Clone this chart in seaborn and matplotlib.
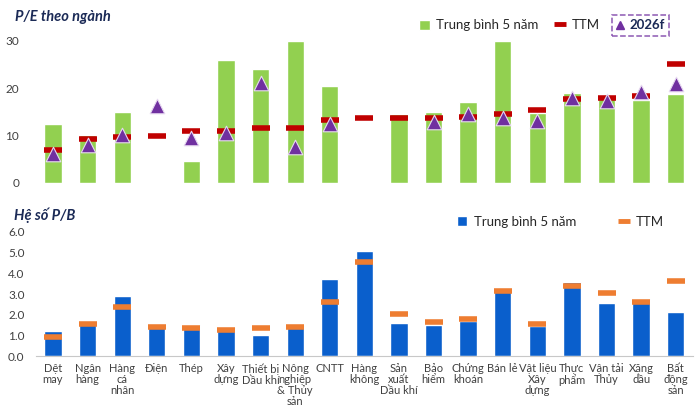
import numpy as np
import pandas as pd
import matplotlib.pyplot as plt
import seaborn as sns
from matplotlib.lines import Line2D
from matplotlib.patches import Patch

# categories (x axis, shared by both panels)
sectors = ["Dệt\nmay", "Ngân\nhàng", "Hàng\ncá\nnhân", "Điện", "Thép", "Xây\ndựng",
           "Thiết bị\nDầu khí", "Nông\nnghiệp\n& Thủy\nsản", "CNTT", "Hàng\nkhông",
           "Sản\nxuất\nDầu khí", "Bảo\nhiểm", "Chứng\nkhoán", "Bán lẻ", "Vật liệu\nXây\ndựng",
           "Thực\nphẩm", "Vận tải\nThủy", "Xăng\ndầu", "Bất\nđộng\nsản"]

# P/E
pe_avg5 = [12.5, 10.1, 14.9, np.nan, 4.6, 25.8, 24.1, 30.0, 20.5, np.nan,
           14.6, 15.0, 17.1, 30.0, 14.8, 19.0, 18.3, 17.4, 18.8]
pe_ttm = [6.9, 9.2, 9.7, 9.9, 11.0, 11.0, 11.5, 11.6, 13.3, 13.6,
          13.7, 13.7, 13.9, 14.6, 15.3, 17.6, 17.9, 18.3, 25.1]
pe_2026f = [6.1, 8.0, 10.1, 16.3, 9.5, 10.6, 21.1, 7.6, 12.4, np.nan,
            np.nan, 12.9, 14.5, 13.6, 13.1, 18.0, 17.3, 19.2, 20.9]

# P/B
pb_avg5 = [1.22, 1.70, 2.93, 1.45, 1.52, 1.36, 1.03, 1.45, 3.71, 5.06,
           1.60, 1.52, 1.71, 3.22, 1.45, 3.57, 2.59, 2.78, 2.13]
pb_ttm = [0.92, 1.55, 2.38, 1.40, 1.35, 1.25, 1.35, 1.40, 2.64, 4.55,
          2.05, 1.63, 1.81, 3.15, 1.55, 3.38, 3.07, 2.64, 3.65]

GREEN = "#92D050"
RED = "#C00000"
PURPLE = "#7030A0"
BLUE = "#0A5FCC"
ORANGE = "#EE7D31"
NAVY = "#1B2A56"
TICK = "#404040"

sns.set_style("white")
plt.rcParams["font.family"] = ["Lato", "DejaVu Sans"]

df = pd.DataFrame({"sector": sectors, "pe_avg5": pe_avg5, "pe_ttm": pe_ttm,
                   "pe_2026f": pe_2026f, "pb_avg5": pb_avg5, "pb_ttm": pb_ttm})

fig = plt.figure(figsize=(7, 4.07), dpi=100)
ax1 = fig.add_axes([0.051, 0.5504, 0.939, 0.350])
ax2 = fig.add_axes([0.051, 0.125, 0.939, 0.305])

# --- P/E panel
sns.barplot(data=df, x="sector", y="pe_avg5", color=GREEN, width=0.5,
            saturation=1, ax=ax1, zorder=1)
sns.scatterplot(data=df, x="sector", y="pe_ttm", marker="_", s=150, linewidth=4,
                color=RED, ax=ax1, zorder=2)
sns.scatterplot(data=df, x="sector", y="pe_2026f", marker="^", s=110,
                color=PURPLE, edgecolor="#E6D8F0", linewidth=0.8, ax=ax1, zorder=3)
ax1.set_xlim(-0.5, len(sectors) - 0.5)
ax1.set_ylim(0, 30)
ax1.set_yticks([0, 10, 20, 30])
ax1.set_xticks([])
ax1.set_xlabel("")
ax1.set_ylabel("")
sns.despine(ax=ax1, left=True, bottom=True)
ax1.tick_params(axis="y", length=0, labelsize=8.5, labelcolor=TICK, pad=12)

fig.text(0.021, 0.958, "P/E theo ngành", fontsize=10.5, fontweight="bold",
         fontstyle="italic", color=NAVY, va="center")

h1 = [Patch(facecolor=GREEN, label="Trung bình 5 năm"),
      Line2D([], [], color=RED, marker="_", ls="none", ms=9, mew=3.5, label="TTM")]
fig.legend(handles=h1, loc="center right", bbox_to_anchor=(0.874, 0.938),
           ncol=2, frameon=False, fontsize=9.5, handlelength=0.8,
           handleheight=0.8, handletextpad=0.5, columnspacing=1.2)
h2 = [Line2D([], [], color=PURPLE, marker="^", ls="none", ms=6, label="2026f")]
leg2 = fig.legend(handles=h2, loc="center", bbox_to_anchor=(0.915, 0.938),
                  frameon=True, fancybox=False, fontsize=9.5, handlelength=0.6,
                  handletextpad=0.4, borderpad=0.35)
leg2.get_frame().set_edgecolor(PURPLE)
leg2.get_frame().set_linestyle("--")
leg2.get_frame().set_linewidth(1.1)
for t in leg2.get_texts():
    t.set_fontweight("bold")
    t.set_color(NAVY)

# --- P/B panel
sns.barplot(data=df, x="sector", y="pb_avg5", color=BLUE, width=0.5,
            saturation=1, ax=ax2, zorder=1)
sns.scatterplot(data=df, x="sector", y="pb_ttm", marker="_", s=150, linewidth=4,
                color=ORANGE, ax=ax2, zorder=2)
ax2.set_xlim(-0.5, len(sectors) - 0.5)
ax2.set_ylim(0, 6)
ax2.set_yticks(np.arange(0, 7, 1.0))
ax2.set_yticklabels([f"{v:.1f}" for v in np.arange(0, 7, 1.0)])
ax2.set_xlabel("")
ax2.set_ylabel("")
sns.despine(ax=ax2, left=True)
ax2.spines["bottom"].set_color("#C8C8C8")
ax2.tick_params(axis="y", length=0, labelsize=8.5, labelcolor=TICK, pad=8)
ax2.tick_params(axis="x", length=0, labelsize=8, labelcolor=TICK, pad=5)
for lab in ax2.get_xticklabels():
    lab.set_linespacing(1.0)
    lab.set_va("top")

fig.text(0.020, 0.472, "Hệ số P/B", fontsize=10.5, fontweight="bold",
         fontstyle="italic", color=NAVY, va="center")

h3 = [Patch(facecolor=BLUE, label="Trung bình 5 năm"),
      Line2D([], [], color=ORANGE, marker="_", ls="none", ms=9, mew=3.5, label="TTM")]
fig.legend(handles=h3, loc="center right", bbox_to_anchor=(0.965, 0.455),
           ncol=2, frameon=False, fontsize=9.5, handlelength=0.8,
           handleheight=0.8, handletextpad=0.5, columnspacing=3.2)

fig.savefig("out.png", dpi=100)
